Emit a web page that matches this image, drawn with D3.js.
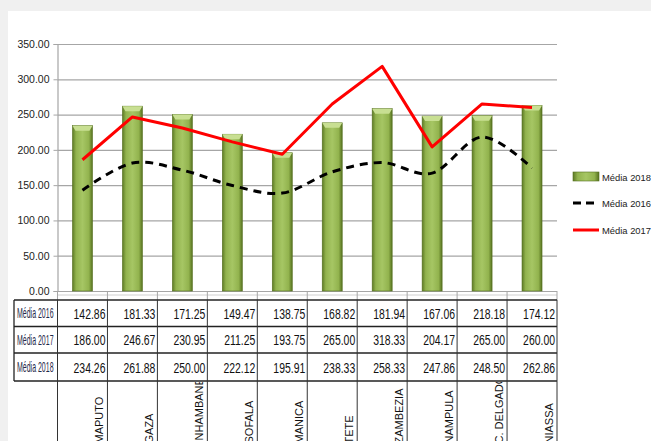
<!DOCTYPE html>
<html>
<head>
<meta charset="utf-8">
<script src="https://cdn.jsdelivr.net/npm/d3@7"></script>
<style>
  html, body { margin: 0; padding: 0; background: #f0f0f0; }
  svg { display: block; }
</style>
</head>
<body>
<div id="chart"></div>
<script>
// dados por província
const categories = ["MAPUTO", "GAZA", "INHAMBANE", "SOFALA", "MANICA", "TETE", "ZAMBEZIA", "NAMPULA", "C. DELGADO", "NIASSA"];
const media2016 = [142.86, 181.33, 171.25, 149.47, 138.75, 168.82, 181.94, 167.06, 218.18, 174.12];
const media2017 = [186.00, 246.67, 230.95, 211.25, 193.75, 265.00, 318.33, 204.17, 265.00, 260.00];
const media2018 = [234.26, 261.88, 250.00, 222.12, 195.91, 238.33, 258.33, 247.86, 248.50, 262.86];
const yTicks = [0, 50, 100, 150, 200, 250, 300, 350];
const rowNames = ["Média 2016", "Média 2017", "Média 2018"];

const W = 651, H = 441;
const plotLeft = 57.5, plotRight = 557, plotTop = 44, plotBottom = 291;
const tableLeft = 14;
const rowY = [300, 326.5, 353, 381];

const svg = d3.select("#chart").append("svg")
  .attr("width", W)
  .attr("height", H);

// fundo branco
svg.append("rect")
  .attr("x", 8).attr("y", 11)
  .attr("width", W - 8).attr("height", H - 11)
  .attr("fill", "#fff");

const defs = svg.append("defs");
const grad = defs.append("linearGradient").attr("id", "barGrad")
  .attr("x1", "0%").attr("x2", "100%").attr("y1", "0%").attr("y2", "0%");
grad.append("stop").attr("offset", "0%").attr("stop-color", "#5d7a25");
grad.append("stop").attr("offset", "18%").attr("stop-color", "#92b34e");
grad.append("stop").attr("offset", "50%").attr("stop-color", "#a6c664");
grad.append("stop").attr("offset", "82%").attr("stop-color", "#92b34e");
grad.append("stop").attr("offset", "100%").attr("stop-color", "#56711f");

defs.append("clipPath").attr("id", "catClip")
  .append("rect").attr("x", 0).attr("y", rowY[3] + 1).attr("width", W).attr("height", H);

const x = d3.scaleBand()
  .domain(categories)
  .range([plotLeft, plotRight]);

const y = d3.scaleLinear()
  .domain([0, 350])
  .range([plotBottom, plotTop]);

// grelha
svg.append("g")
  .attr("transform", `translate(${plotLeft},0)`)
  .call(d3.axisLeft(y).tickValues(yTicks).tickSize(-(plotRight - plotLeft)).tickFormat(""))
  .call(g => g.select(".domain").remove())
  .call(g => g.selectAll("line").attr("stroke", "#a6a6a6").attr("stroke-width", 1.2));

// eixo Y
svg.append("g")
  .attr("transform", `translate(${plotLeft},0)`)
  .call(d3.axisLeft(y).tickValues(yTicks).tickSize(4).tickPadding(4).tickFormat(d3.format(".2f")))
  .call(g => g.select(".domain").attr("stroke", "#a6a6a6").attr("stroke-width", 1.2))
  .call(g => g.selectAll("line").attr("stroke", "#a6a6a6"))
  .call(g => g.selectAll("text")
    .style("font-family", "'Liberation Sans', Arial, sans-serif")
    .style("font-size", "10.5px")
    .attr("fill", "#222"));

// barras (Média 2018)
const bw = 20;
const bars = svg.append("g");
media2018.forEach((v, i) => {
  const cx = x(categories[i]) + x.bandwidth() / 2;
  const bx = cx - bw / 2, by = y(v);
  bars.append("rect")
    .attr("x", bx).attr("y", by)
    .attr("width", bw).attr("height", y(0) - by)
    .attr("fill", "url(#barGrad)")
    .attr("stroke", "#55701f").attr("stroke-width", 0.6);
  bars.append("path")
    .attr("d", `M${bx},${by} L${bx + bw},${by} L${bx + bw - 3},${by + 5} L${bx + 3},${by + 5} Z`)
    .attr("fill", "#c8df92");
});

// linhas
const px = (d, i) => x(categories[i]) + x.bandwidth() / 2;
svg.append("path")
  .datum(media2016)
  .attr("fill", "none")
  .attr("stroke", "#000")
  .attr("stroke-width", 3)
  .attr("stroke-dasharray", "8,6")
  .attr("d", d3.line().x(px).y(d => y(d)).curve(d3.curveCatmullRom.alpha(0)));

svg.append("path")
  .datum(media2017)
  .attr("fill", "none")
  .attr("stroke", "#ff0000")
  .attr("stroke-width", 3)
  .attr("stroke-linejoin", "round")
  .attr("d", d3.line().x(px).y(d => y(d)));

// marcas entre o eixo e a tabela
const bounds = categories.map(c => x(c)).concat([plotRight]);
const tk = svg.append("g");
tk.append("line")
  .attr("x1", plotLeft).attr("x2", plotRight).attr("y1", plotBottom + 4).attr("y2", plotBottom + 4)
  .attr("stroke", "#d0d0d0");
bounds.forEach(b => {
  tk.append("line")
    .attr("x1", b).attr("x2", b).attr("y1", plotBottom).attr("y2", rowY[0])
    .attr("stroke", "#a6a6a6");
});

// tabela de dados
const tbl = svg.append("g");
rowY.forEach(ry => {
  tbl.append("line")
    .attr("x1", tableLeft).attr("x2", plotRight).attr("y1", ry).attr("y2", ry)
    .attr("stroke", "#222").attr("stroke-width", 1.3);
});
tbl.append("line")
  .attr("x1", tableLeft).attr("x2", tableLeft).attr("y1", rowY[0]).attr("y2", rowY[3])
  .attr("stroke", "#222").attr("stroke-width", 1.3);
bounds.forEach(b => {
  tbl.append("line")
    .attr("x1", b).attr("x2", b).attr("y1", rowY[0]).attr("y2", H)
    .attr("stroke", "#333").attr("stroke-width", 1);
});

// texto estreito (a fonte "narrow" não existe aqui): escala horizontal
const series = [media2016, media2017, media2018];
series.forEach((vals, r) => {
  const cy = (rowY[r] + rowY[r + 1]) / 2;
  tbl.append("g")
    .attr("transform", `translate(${tableLeft + 3},${cy + 5}) scale(0.5,1)`)
    .append("text")
    .style("font-family", "'Liberation Sans', Arial, sans-serif")
    .style("font-size", "14px")
    .attr("fill", "#1f2a4a")
    .text(rowNames[r]);
  vals.forEach((v, i) => {
    tbl.append("g")
      .attr("transform", `translate(${x(categories[i]) + x.bandwidth() - 2},${cy + 5.5}) scale(0.72,1)`)
      .append("text")
      .attr("text-anchor", "end")
      .style("font-family", "'Liberation Sans', Arial, sans-serif")
      .style("font-size", "14.5px")
      .attr("fill", "#111")
      .text(d3.format(".2f")(v));
  });
});

// nomes das províncias (rodados, alinhados em baixo)
const cat = svg.append("g").attr("clip-path", "url(#catClip)");
categories.forEach(c => {
  const tx = x(c) + x.bandwidth() - 4;
  const ty = 443.5;
  cat.append("text")
    .attr("transform", `translate(${tx},${ty}) rotate(-90)`)
    .attr("text-anchor", "start")
    .style("font-family", "'Liberation Sans', Arial, sans-serif")
    .style("font-size", "11px")
    .attr("fill", "#111")
    .text(c);
});

// legenda
const lg = svg.append("g");
const lx = 573;
lg.append("rect")
  .attr("x", lx).attr("y", 172).attr("width", 26).attr("height", 9)
  .attr("fill", "url(#barGrad)").attr("stroke", "#55701f").attr("stroke-width", 0.6);
lg.append("line")
  .attr("x1", lx).attr("x2", lx + 26).attr("y1", 203).attr("y2", 203)
  .attr("stroke", "#000").attr("stroke-width", 3).attr("stroke-dasharray", "8,5");
lg.append("line")
  .attr("x1", lx).attr("x2", lx + 26).attr("y1", 230).attr("y2", 230)
  .attr("stroke", "#ff0000").attr("stroke-width", 3);
[["Média 2018", 177], ["Média 2016", 203], ["Média 2017", 230]].forEach(([t, ly]) => {
  lg.append("text")
    .attr("x", lx + 29).attr("y", ly + 4)
    .style("font-family", "'Liberation Sans', Arial, sans-serif")
    .style("font-size", "9.4px")
    .attr("fill", "#222")
    .text(t);
});
</script>
</body>
</html>
